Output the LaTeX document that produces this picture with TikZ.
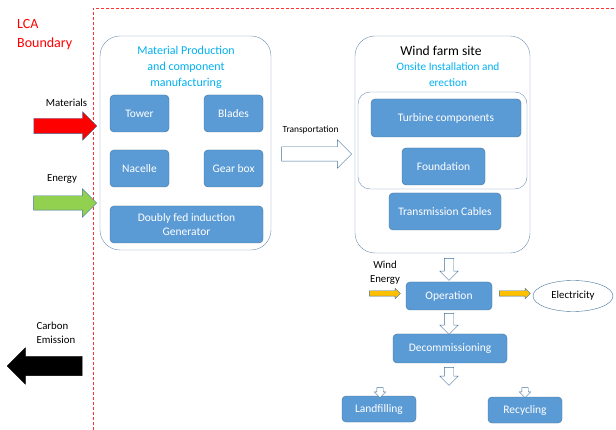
\documentclass[tikz,border=0pt]{standalone}
\usepackage{fontspec}
\setmainfont{Carlito}
\usetikzlibrary{shapes.arrows,shapes.geometric}

\definecolor{boxblue}{RGB}{91,155,213}
\definecolor{edgeblue}{RGB}{65,113,156}
\definecolor{frameblue}{RGB}{110,143,181}
\definecolor{titlecyan}{RGB}{0,176,240}
\definecolor{arrowyellow}{RGB}{255,192,0}
\definecolor{arrowgreen}{RGB}{146,208,80}

\begin{document}
\begin{tikzpicture}[x=1pt,y=-1pt,
    stagebox/.style={draw=edgeblue, fill=boxblue, rounded corners=4pt, text=white,
      font=\fontsize{11.5}{13}\selectfont, align=center, inner sep=0pt},
    bigframe/.style={draw=frameblue, rounded corners=20pt, inner sep=0pt},
    blockarrow/.style 2 args={single arrow, draw=edgeblue, inner xsep=0pt, inner ysep=#1,
      single arrow head extend=#2},
    downarrow/.style 2 args={single arrow, draw=edgeblue, fill=white, shape border rotate=270,
      inner xsep=#1, inner ysep=0pt, single arrow head extend=#2},
    plaintext/.style={font=\fontsize{10.8}{14}\selectfont, align=center}]
      \useasboundingbox (0,0) rectangle (616,430);
      % LCA boundary
      \draw [densely dashed, red!80, line width=0.4pt] (93,430) -- (93,8) -- (616,8);
      \node [anchor=north west, text=red, font=\fontsize{14}{19}\selectfont, align=left, inner sep=0pt] (lca) at (17,19) {LCA\\Boundary};

      % material production
      \node [bigframe, minimum width=171pt, minimum height=214pt] (matframe) at (185.5,143) {};
      \node [text=titlecyan, font=\fontsize{12}{16}\selectfont, align=center] (mattitle) at (186,67) {Material Production\\and component\\manufacturing};
      \node [stagebox, minimum width=59pt, minimum height=37pt] (tower) at (139.5,113.5) {Tower};
      \node [stagebox, minimum width=59pt, minimum height=37pt] (blades) at (233.5,113.5) {Blades};
      \node [stagebox, minimum width=59pt, minimum height=37pt] (nacelle) at (139.5,168.5) {Nacelle};
      \node [stagebox, minimum width=59pt, minimum height=37pt] (gearbox) at (233.5,168.5) {Gear box};
      \node [stagebox, minimum width=153pt, minimum height=37pt] (dfig) at (186.5,224.5) {Doubly fed induction\\[1pt]Generator};

      % inputs and outputs
      \node [plaintext] (materials) at (66.5,103) {Materials};
      \node [blockarrow={7.5pt}{6.5pt}, fill=red, minimum height=63pt] (matarrow) at (61.5,126) {};
      \node [plaintext] (energy) at (62,179) {Energy};
      \node [blockarrow={7pt}{7pt}, fill=arrowgreen, minimum height=63pt] (energyarrow) at (61.5,203) {};
      \node [plaintext, align=left, anchor=west] (carbon) at (33,333) {Carbon\\Emission};
      \node [blockarrow={9.5pt}{8.5pt}, fill=black, draw=black, shape border rotate=180, minimum height=75pt] (carbonarrow) at (49.5,366) {};

      % transportation
      \node [font=\fontsize{9.4}{11}\selectfont] (transport) at (310.5,130) {Transportation};
      \node [blockarrow={7pt}{7pt}, fill=white, minimum height=70pt] (transarrow) at (313,154) {};

      % wind farm site
      \node [bigframe, minimum width=175pt, minimum height=217pt] (siteframe) at (442.5,144.5) {};
      \node [font=\fontsize{13.6}{15}\selectfont] (sitetitle) at (441,51) {Wind farm site};
      \node [text=titlecyan, font=\fontsize{11.3}{16}\selectfont, align=center] (sitesub) at (448,75) {Onsite Installation and\\erection};
      \node [draw=frameblue, rounded corners=12pt, minimum width=169pt, minimum height=97pt, inner sep=0pt] (erect) at (442.5,140.5) {};
      \node [stagebox, minimum width=150pt, minimum height=38pt] (turbine) at (446,118) {Turbine components};
      \node [stagebox, minimum width=83pt, minimum height=37pt] (foundation) at (443.5,166.5) {Foundation};
      \node [stagebox, minimum width=112pt, minimum height=37pt] (cables) at (445,211.5) {Transmission Cables};

      % operation and end of life
      \node [stagebox, minimum width=86pt, minimum height=28pt] (operation) at (449,296) {Operation};
      \node [stagebox, minimum width=114pt, minimum height=29pt] (decom) at (450,348.5) {Decommissioning};
      \node [stagebox, minimum width=74pt, minimum height=26pt] (landfill) at (379,409) {Landfilling};
      \node [stagebox, minimum width=74pt, minimum height=26pt] (recycle) at (525,410) {Recycling};
      \node [draw=edgeblue, ellipse, minimum width=80pt, minimum height=31pt, inner sep=0pt, font=\fontsize{10.8}{12}\selectfont] (elec) at (573,296) {Electricity};
      \node [plaintext] (wind) at (385,272.5) {Wind\\Energy};

      \node [downarrow={4.5pt}{4.5pt}, minimum height=22pt] (down1) at (449,267) {};
      \node [downarrow={4.5pt}{4.5pt}, minimum height=21pt] (down2) at (449,321.5) {};
      \node [downarrow={4.5pt}{4.5pt}, minimum height=18pt] (down3) at (449,374) {};
      \node [downarrow={3pt}{2.5pt}, minimum height=10pt] (downleft) at (380,391) {};
      \node [downarrow={3pt}{2.5pt}, minimum height=10pt] (downright) at (525,391) {};
      \node [blockarrow={2.5pt}{2.5pt}, fill=arrowyellow, minimum height=31pt] (windarrow) at (383.5,293.5) {};
      \node [blockarrow={2.5pt}{2.5pt}, fill=arrowyellow, minimum height=31pt] (elecarrow) at (513.5,293.5) {};
\end{tikzpicture}
\end{document}
